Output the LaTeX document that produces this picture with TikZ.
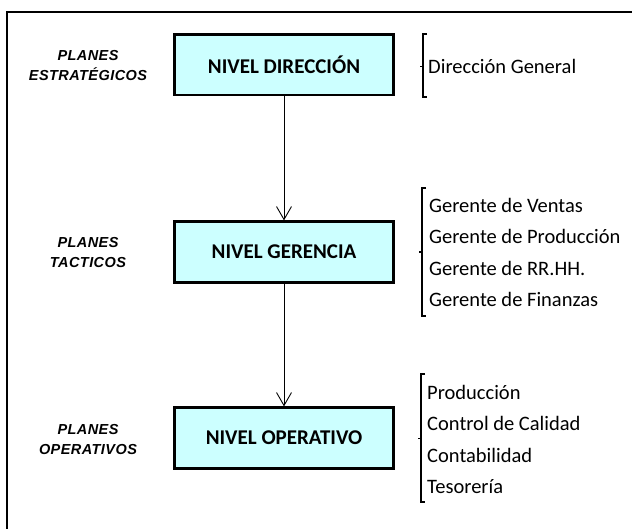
\documentclass[tikz,border=0pt]{standalone}
\usepackage{fontspec}
\setmainfont{Carlito}
\newfontfamily\labelfont[LetterSpace=3]{Liberation Sans}
\usetikzlibrary{arrows.meta}
\definecolor{boxfill}{HTML}{CCFFFF}
\tikzset{
  levelbox/.style={draw=black, line width=2.6pt, fill=boxfill,
    minimum width=219.4pt, minimum height=60.6pt, inner sep=0pt,
    font=\bfseries\fontsize{21}{25}\selectfont},
  planlabel/.style={align=center, inner sep=0pt,
    font=\labelfont\bfseries\itshape\fontsize{14.5}{20}\selectfont},
  itemtext/.style={anchor=base west, inner sep=0pt,
    font=\fontsize{20.5}{24}\selectfont},
  flowarrow/.style={line width=0.9pt, -{Straight Barb[length=13pt,width=15pt,line width=0.9pt]}},
  bracketline/.style={line width=1.2pt},
  framebox/.style={line width=2pt}
}
\begin{document}
\begin{tikzpicture}[x=1pt,y=-1pt]
\useasboundingbox (0,0) rectangle (632,528);
\clip (0,0) rectangle (632,528);
\draw[framebox] (7,12) rectangle (660,560);

% level boxes
\node[levelbox] (dir) at (284,64.5) {NIVEL DIRECCIÓN};
\node[levelbox] (ger) at (284,252) {NIVEL GERENCIA};
\node[levelbox] (ope) at (284,438) {NIVEL OPERATIVO};

\draw[flowarrow] (dir.south) -- (ger.north);
\draw[flowarrow] (ger.south) -- (ope.north);

% left labels
\node[planlabel] (pest) at (88,66) {PLANES\\ESTRATÉGICOS};
\node[planlabel] (ptac) at (88,253) {PLANES\\TACTICOS};
\node[planlabel] (pope) at (88,440) {PLANES\\OPERATIVOS};

% list 1
\node[itemtext] (dg) at (428,73.3) {Dirección General};
\coordinate (b1t) at (423,34);
\coordinate (b1b) at (423,97);
\coordinate (b1m) at (423,66.5);
\draw[bracketline] ([xshift=4pt]b1t) -- (b1t) -- (b1b) -- ([xshift=4pt]b1b);
\draw[bracketline] (b1m) -- ([xshift=-3pt]b1m);

% list 2
\node[itemtext] (gv) at (429,212.5) {Gerente de Ventas};
\node[itemtext] (gp) at (429,243.8) {Gerente de Producción};
\node[itemtext] (gr) at (429,275.1) {Gerente de RR.HH.};
\node[itemtext] (gf) at (429,306.4) {Gerente de Finanzas};
\coordinate (b2t) at (422,188);
\coordinate (b2b) at (422,316);
\coordinate (b2m) at (422,252);
\draw[bracketline] ([xshift=4pt]b2t) -- (b2t) -- (b2b) -- ([xshift=4pt]b2b);
\draw[bracketline] (b2m) -- ([xshift=-3pt]b2m);

% list 3
\node[itemtext] (op) at (427,399.5) {Producción};
\node[itemtext] (oc) at (427,430.8) {Control de Calidad};
\node[itemtext] (ob) at (427,462.1) {Contabilidad};
\node[itemtext] (ot) at (427,493.4) {Tesorería};
\coordinate (b3t) at (421,374);
\coordinate (b3b) at (421,502);
\coordinate (b3m) at (421,438.5);
\draw[bracketline] ([xshift=4pt]b3t) -- (b3t) -- (b3b) -- ([xshift=4pt]b3b);
\draw[bracketline] (b3m) -- ([xshift=-3pt]b3m);
\end{tikzpicture}
\end{document}
